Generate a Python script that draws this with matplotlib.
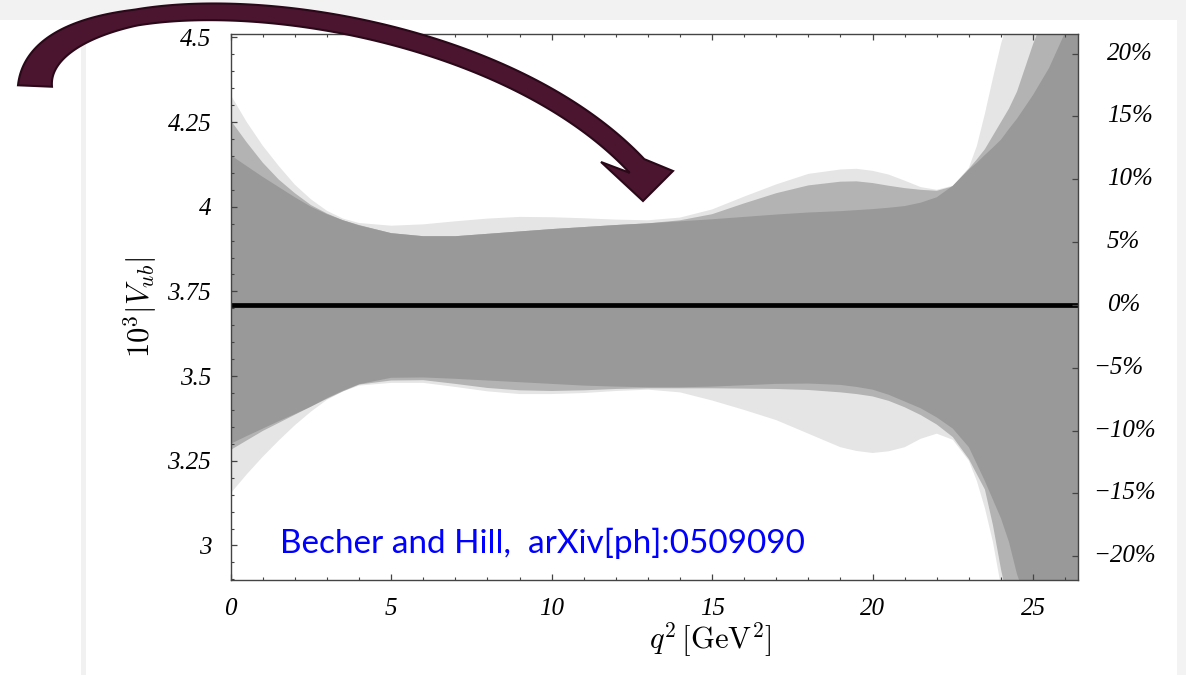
import matplotlib.pyplot as plt
import numpy as np
from matplotlib.ticker import MultipleLocator
from matplotlib.patches import Polygon, Rectangle
import matplotlib.transforms as mtransforms

plt.rcParams.update({
    "mathtext.fontset": "cm",
    "font.family": "serif",
    "font.serif": ["Liberation Serif", "DejaVu Serif"],
    "font.style": "italic",
})

# q^2 grid (GeV^2) and band edges for 10^3 |V_ub|
q = [0, 0.5, 1, 1.5, 2, 2.5, 3, 3.5, 4, 5, 6, 7, 8, 9, 10, 11, 12, 13, 14, 15,
     16, 17, 18, 19, 19.5, 20, 20.5, 21, 21.5, 22, 22.5, 23, 23.25, 23.5,
     23.75, 24, 24.25, 24.5, 25, 25.5, 26, 26.5]

light_hi = [4.33, 4.25, 4.18, 4.12, 4.065, 4.022, 3.988, 3.965, 3.952, 3.944,
            3.948, 3.957, 3.965, 3.970, 3.969, 3.966, 3.962, 3.960, 3.968, 3.992,
            4.030, 4.066, 4.097, 4.110, 4.112, 4.106, 4.095, 4.077, 4.058, 4.050,
            4.062, 4.115, 4.18, 4.275, 4.38, 4.48, 4.56, 4.65, 4.85, 5.0, 5.2, 5.4]
light_lo = [3.154, 3.21, 3.262, 3.31, 3.355, 3.395, 3.43, 3.455, 3.472, 3.48,
            3.48, 3.468, 3.455, 3.447, 3.447, 3.45, 3.456, 3.46, 3.452, 3.428,
            3.40, 3.37, 3.33, 3.29, 3.279, 3.273, 3.278, 3.29, 3.315, 3.33,
            3.312, 3.25, 3.19, 3.11, 3.01, 2.88, 2.77, 2.68, 2.5, 2.35, 2.2, 2.05]

mid_hi = [4.255, 4.19, 4.13, 4.08, 4.04, 4.005, 3.98, 3.96, 3.946, 3.922,
          3.913, 3.913, 3.92, 3.927, 3.934, 3.94, 3.946, 3.951, 3.96, 3.978,
          4.01, 4.04, 4.063, 4.074, 4.075, 4.07, 4.062, 4.055, 4.05, 4.047,
          4.06, 4.112, 4.14, 4.17, 4.21, 4.25, 4.29, 4.34, 4.48, 4.6, 4.72, 4.85]
mid_lo = [3.282, 3.31, 3.338, 3.362, 3.386, 3.41, 3.433, 3.455, 3.475, 3.487,
          3.488, 3.477, 3.465, 3.458, 3.456, 3.458, 3.462, 3.464, 3.464, 3.464,
          3.463, 3.462, 3.459, 3.452, 3.447, 3.44, 3.427, 3.408, 3.385, 3.357,
          3.32, 3.255, 3.21, 3.165, 3.06, 2.93, 2.82, 2.72, 2.55, 2.4, 2.25, 2.1]

dark_hi = [4.152, 4.12, 4.088, 4.058, 4.028, 4.0, 3.978, 3.96, 3.945, 3.922,
           3.913, 3.913, 3.92, 3.927, 3.934, 3.94, 3.946, 3.951, 3.957, 3.963,
           3.97, 3.977, 3.983, 3.987, 3.99, 3.993, 3.997, 4.002, 4.012, 4.028,
           4.062, 4.11, 4.13, 4.153, 4.175, 4.198, 4.23, 4.26, 4.33, 4.41, 4.515, 4.62]
dark_lo = [3.30, 3.323, 3.345, 3.367, 3.388, 3.41, 3.435, 3.457, 3.476, 3.495,
           3.496, 3.492, 3.487, 3.482, 3.477, 3.472, 3.469, 3.467, 3.467, 3.469,
           3.473, 3.477, 3.478, 3.474, 3.468, 3.46, 3.445, 3.425, 3.405, 3.378,
           3.345, 3.29, 3.24, 3.19, 3.135, 3.08, 3.01, 2.915, 2.78, 2.65, 2.5, 2.35]

vub_central = 3.71
left_ticks = [3, 3.25, 3.5, 3.75, 4, 4.25, 4.5]
left_labels = ['3', '3.25', '3.5', '3.75', '4', '4.25', '4.5']
pct_ticks = [20, 15, 10, 5, 0, -5, -10, -15, -20]
pct_labels = ['20%', '15%', '10%', '5%', '0%',
              '\u22125%', '\u221210%', '\u221215%', '\u221220%']

W, H = 1186, 675
fig = plt.figure(figsize=(W / 100, H / 100), dpi=100)
fig.patch.set_facecolor('white')

# slide frame around the picture
fig.add_artist(Rectangle((0, 1 - 20 / H), 1, 20 / H, transform=fig.transFigure,
                         fc='#f2f2f2', ec='none', zorder=-5))
fig.add_artist(Rectangle((81 / W, 0), 5 / W, 1 - 20 / H, transform=fig.transFigure,
                         fc='#f1f1f1', ec='none', zorder=-5))
fig.add_artist(Rectangle((1177 / W, 0), 9 / W, 1 - 20 / H, transform=fig.transFigure,
                         fc='#f3f3f3', ec='none', zorder=-5))

ax = fig.add_axes([230.7 / W, 1 - 580 / H, (1078 - 230.7) / W, (580 - 34) / H])
ax.fill_between(q, light_lo, light_hi, color='#e5e5e5', lw=0)
ax.fill_between(q, mid_lo, mid_hi, color='#b3b3b3', lw=0)
ax.fill_between(q, dark_lo, dark_hi, color='#999999', lw=0)
ax.axhline(vub_central, color='black', lw=3.4)

ymin, ymax = 2.898, 4.51
ax.set_xlim(0, 26.4)
ax.set_ylim(ymin, ymax)
ax.xaxis.set_major_locator(MultipleLocator(5))
ax.xaxis.set_minor_locator(MultipleLocator(1))
ax.set_yticks(left_ticks, left_labels)
ax.yaxis.set_minor_locator(MultipleLocator(0.05))
ax.tick_params(which='both', direction='in', top=True, right=False,
               color='#444444', labelsize=18)
ax.tick_params(which='major', length=4.5, width=0.9)
ax.tick_params(which='minor', length=2.5, width=0.8)
ax.tick_params(axis='y', pad=14)
ax.tick_params(axis='x', pad=13)
for s in ax.spines.values():
    s.set_color('#444444')
    s.set_linewidth(1.0)

# percentage axis on the right
ax2 = ax.twinx()
ax2.set_ylim((ymin / vub_central - 1) * 100, (ymax / vub_central - 1) * 100)
ax2.set_yticks(pct_ticks)
ax2.set_yticklabels([])
ax2.tick_params(direction='in', length=4.5, width=0.9, color='#444444')
for s in ax2.spines.values():
    s.set_visible(False)
tr = mtransforms.blended_transform_factory(fig.transFigure, ax2.transData)
for t, lab in zip(pct_ticks, pct_labels):
    xpos = 1107 if t >= 0 else 1093
    ax2.text(xpos / W, t, lab, transform=tr, ha='left', va='center', fontsize=18)

ax.text(0.058, 0.068, 'Becher and Hill,  arXiv[ph]:0509090', transform=ax.transAxes,
        color='#0000ff', fontsize=24, family='Lato', style='normal',
        ha='left', va='center')

fig.text(140 / W, 1 - 307 / H, r'$10^3|V_{ub}|$', rotation=90, fontsize=22,
         ha='center', va='center')
fig.text(710 / W, 1 - 640 / H, r'$q^2\,[\mathrm{GeV}^2]$', fontsize=22,
         ha='center', va='center')

# curved arrow drawn in image pixel space
P0 = np.array([35.0, 86.0])
P1 = np.array([40.0, -32.0])
P2 = np.array([470.0, -12.0])
P3 = np.array([637.0, 166.0])
t = np.linspace(0, 1, 160)[:, None]
c = (1 - t) ** 3 * P0 + 3 * (1 - t) ** 2 * t * P1 + 3 * (1 - t) * t ** 2 * P2 + t ** 3 * P3
d = 3 * (1 - t) ** 2 * (P1 - P0) + 6 * (1 - t) * t * (P2 - P1) + 3 * t ** 2 * (P3 - P2)
d = d / np.linalg.norm(d, axis=1)[:, None]
n = np.column_stack([-d[:, 1], d[:, 0]])
hw = np.interp(t[:, 0], [0, 0.3, 1], [17, 8, 10])[:, None]
side_a = c + n * hw
side_b = c - n * hw
head = np.array([[601.0, 162.0], [643.0, 201.0], [673.0, 171.0]])
outline = np.vstack([side_a, head, side_b[::-1]])
outline_fig = np.column_stack([outline[:, 0] / W, 1 - outline[:, 1] / H])
fig.add_artist(Polygon(outline_fig, closed=True, transform=fig.transFigure,
                       fc='#4b1530', ec='#2a0818', lw=1.5, zorder=10))

fig.savefig('out.png', dpi=100, facecolor=fig.get_facecolor())
